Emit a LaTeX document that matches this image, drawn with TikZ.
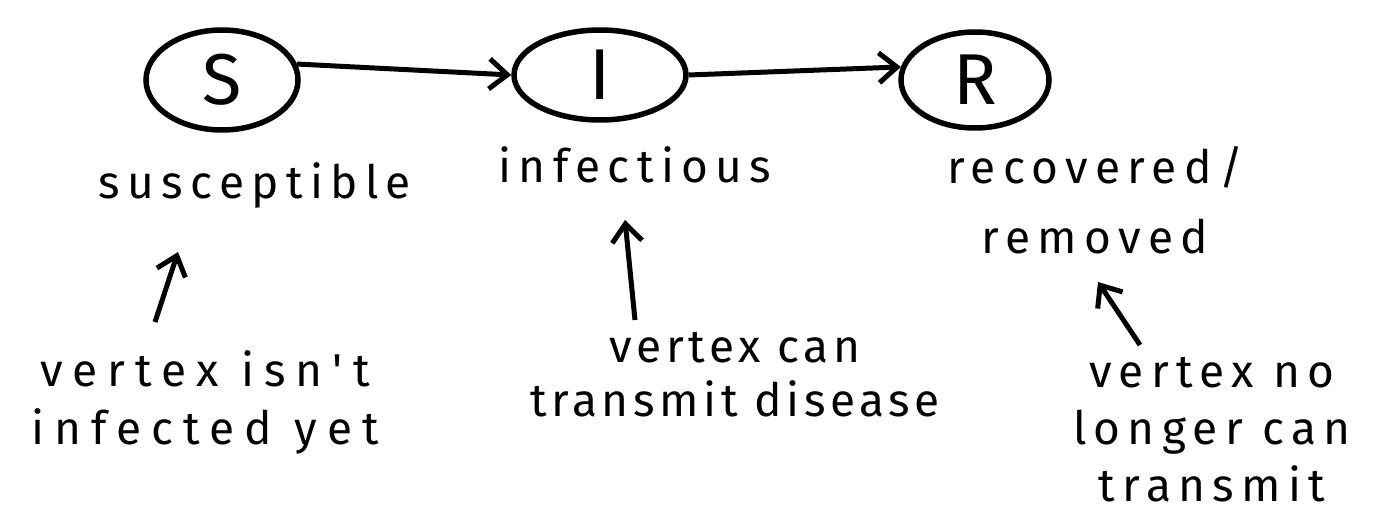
\documentclass[tikz,border=0pt]{standalone}
\usepackage{fontspec}
\setmainfont{Fira Sans}
\newfontfamily\handA[LetterSpace=16]{Fira Sans}
\newfontfamily\handB[LetterSpace=22]{Fira Sans}
\newfontfamily\handC[LetterSpace=10]{Fira Sans}
\usetikzlibrary{arrows.meta,shapes.geometric}
\begin{document}
\begin{tikzpicture}[x=1pt,y=-1pt,
  state/.style={draw,line width=5.5pt,ellipse,inner sep=0pt,font=\fontsize{72}{80}\selectfont},
  lbl/.style={font=\fontsize{46}{70}\selectfont\handA, align=center},
  note/.style={font=\fontsize{46}{58}\selectfont\handB, align=center},
  conn/.style={line width=5pt,-{Straight Barb[length=18pt,width=30pt,line width=5pt]}}]
\useasboundingbox (0,0) rectangle (1398,516);
\node[state,minimum width=152pt,minimum height=100pt] (S) at (222,80) {S};
\node[state,minimum width=172pt,minimum height=90pt] (I) at (600,75) {I};
\node[state,minimum width=148pt,minimum height=96pt] (R) at (975,80) {R};
\draw[conn] (S.12) -- (I.west);
\draw[conn] (I.east) -- (R.170);

\node[lbl] (sus) at (255,185) {susceptible};
\node[lbl] (inf) at (635,165) {infectious};
\node[lbl] (rec) at (1095,200) {recovered/\\removed};

\node[note] (n1) at (205,402) {vertex isn't\\infected yet};
\node[note,font=\fontsize{46}{54}\selectfont\handC] (n2) at (735,375) {vertex can\\transmit disease};
\node[note,font=\fontsize{46}{57}\selectfont\handA] (n3) at (1212,430) {vertex no\\longer can\\transmit};

\coordinate (a1s) at (155,322); \coordinate (a1e) at (178,252);
\coordinate (a2s) at (635,320); \coordinate (a2e) at (625,220);
\coordinate (a3s) at (1140,345); \coordinate (a3e) at (1098,282);
\draw[conn] (a1s) -- (a1e);
\draw[conn] (a2s) -- (a2e);
\draw[conn] (a3s) -- (a3e);
\end{tikzpicture}
\end{document}
